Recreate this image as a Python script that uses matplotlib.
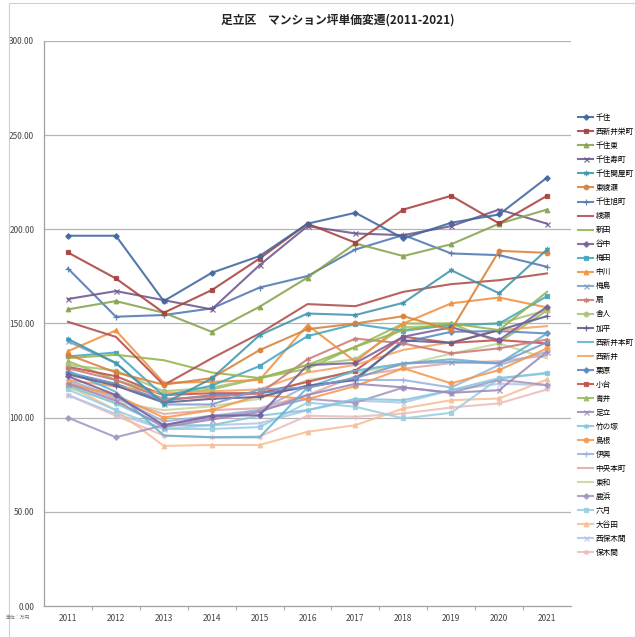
import matplotlib
matplotlib.use("Agg")
import matplotlib.pyplot as plt
from matplotlib.patches import Rectangle

plt.rcParams['font.family'] = ['Noto Sans CJK JP', 'DejaVu Sans']

years = [2011, 2012, 2013, 2014, 2015, 2016, 2017, 2018, 2019, 2020, 2021]
year_labels = [str(y) for y in years]
yticks = [0, 50, 100, 150, 200, 250, 300]
ytick_labels = ["%.2f" % v for v in yticks]

names = ["千住", "西新井栄町", "千住東", "千住寿町", "千住関屋町", "東綾瀬", "千住旭町", "綾瀬",
         "新田", "谷中", "梅田", "中川", "梅島", "扇", "舎人", "加平", "西新井本町", "西新井",
         "栗原", "小台", "青井", "足立", "竹の塚", "島根", "伊興", "中央本町", "東和", "鹿浜",
         "六月", "大谷田", "西保木間", "保木間"]

senju = [196.6, 196.6, 161.9, 176.9, 185.8, 203.0, 208.8, 195.2, 203.5, 207.9, 227.5]
nishiarai_sakae = [187.7, 173.9, 155.7, 167.7, 184.5, 203.0, 192.9, 210.5, 217.8, 203.1, 217.8]
senju_higashi = [157.5, 161.9, 155.7, 145.6, 158.9, 174.4, 192.5, 185.8, 192.1, 203.0, 210.5]
senju_kotobuki = [163.0, 167.2, 162.4, 157.5, 181.0, 201.7, 197.8, 196.9, 201.7, 210.5, 203.0]
senju_sekiya = [141.8, 129.0, 107.5, 120.8, 143.8, 155.3, 154.5, 161.0, 178.3, 166.0, 189.3]
higashi_ayase = [133.5, 124.0, 117.5, 121.0, 135.9, 147.0, 150.0, 153.9, 146.5, 188.6, 187.5]
senju_asahi = [179.2, 153.6, 154.5, 158.0, 169.1, 175.2, 189.3, 197.0, 187.2, 186.3, 180.1]
ayase = [150.9, 142.9, 117.3, 131.5, 144.7, 160.3, 159.2, 166.8, 170.9, 173.0, 176.6]
shinden = [131.6, 133.4, 130.5, 124.0, 121.0, 128.0, 137.6, 146.5, 150.0, 146.5, 166.8]
yanaka = [122.0, 112.0, 96.0, 101.0, 101.3, 127.9, 129.0, 143.0, 148.0, 141.2, 158.9]
umeda = [132.5, 134.6, 111.5, 117.0, 127.4, 143.3, 149.7, 146.1, 149.2, 150.0, 164.5]
nakagawa = [135.3, 146.3, 118.5, 119.0, 120.0, 149.2, 129.7, 150.0, 160.7, 163.8, 158.5]
umejima = [140.5, 129.0, 107.0, 107.0, 115.0, 116.0, 121.0, 128.8, 129.6, 128.8, 140.0]
ogi = [126.2, 120.0, 110.0, 111.0, 112.9, 131.0, 142.0, 139.4, 134.1, 136.8, 141.5]
toneri = [128.0, 125.0, 114.0, 116.0, 120.8, 128.0, 131.0, 148.0, 149.0, 150.0, 157.1]
kahei = [123.0, 117.0, 108.0, 110.0, 111.0, 117.0, 120.0, 141.0, 139.7, 146.5, 153.9]
nishiarai_hon = [125.0, 113.7, 90.5, 89.6, 89.6, 116.0, 125.0, 128.8, 131.0, 128.8, 144.7]
nishiarai = [120.0, 116.5, 113.0, 114.0, 115.0, 124.0, 128.0, 136.0, 140.0, 146.5, 148.6]
kurihara = [124.0, 118.0, 109.0, 112.0, 113.0, 116.0, 121.0, 140.0, 145.6, 146.0, 144.7]
odai = [127.0, 122.0, 112.0, 113.0, 113.0, 119.0, 125.0, 143.0, 139.7, 141.2, 139.4]
aoi = [130.0, 120.0, 112.0, 115.0, 121.0, 126.0, 137.6, 150.0, 150.0, 140.0, 157.0]
adachi = [118.0, 109.0, 95.0, 99.0, 103.0, 112.0, 118.0, 116.1, 113.2, 114.6, 135.0]
takenotsuka = [117.0, 107.5, 96.0, 96.0, 101.0, 104.0, 110.0, 109.3, 114.6, 121.0, 123.8]
shimane = [118.0, 112.0, 100.0, 104.0, 112.0, 109.9, 116.8, 126.2, 118.2, 125.3, 136.8]
iko = [120.0, 111.0, 98.0, 101.0, 104.0, 117.0, 120.0, 120.0, 116.0, 128.0, 135.0]
chuo_hon = [119.0, 110.0, 102.0, 104.0, 105.0, 112.0, 122.0, 126.0, 129.0, 130.0, 133.0]
towa = [116.0, 108.0, 104.0, 106.0, 110.0, 120.0, 124.0, 128.0, 134.0, 139.4, 131.5]
shikahama = [100.0, 89.6, 96.0, 100.0, 104.0, 110.0, 108.0, 116.0, 113.2, 120.2, 117.3]
rokugatsu = [115.0, 104.0, 94.0, 94.0, 95.0, 108.0, 105.8, 99.6, 102.6, 120.8, 123.5]
oyata = [117.0, 104.0, 85.0, 85.5, 85.5, 92.5, 96.0, 104.9, 109.3, 110.2, 120.3]
nishi_hokima = [112.0, 102.0, 94.0, 96.0, 97.0, 104.0, 109.0, 108.0, 114.6, 118.0, 117.3]
hokima = [112.0, 101.0, 90.5, 89.6, 90.0, 101.0, 100.5, 102.2, 105.4, 107.6, 115.0]

series = [senju, nishiarai_sakae, senju_higashi, senju_kotobuki, senju_sekiya, higashi_ayase,
          senju_asahi, ayase, shinden, yanaka, umeda, nakagawa, umejima, ogi, toneri, kahei,
          nishiarai_hon, nishiarai, kurihara, odai, aoi, adachi, takenotsuka, shimane, iko,
          chuo_hon, towa, shikahama, rokugatsu, oyata, nishi_hokima, hokima]

colors = ["#40679E", "#A8413E", "#86A34B", "#6E568C", "#3F95AD", "#D98139",
          "#5177B0", "#B04D4A", "#94B552", "#7A5E9E", "#44A6C0", "#F0913F",
          "#7D9CCB", "#CC7B79", "#A9C47A", "#5F5C8E", "#62B3CF", "#F5A460",
          "#5B88C4", "#C0504D", "#9BBB59", "#9C8AB8", "#86C6DB", "#F59A4E",
          "#9AB3DD", "#E3A6A4", "#C6D79B", "#A497C1", "#9ACFE2", "#F7BE95",
          "#B3C7E6", "#EBBDBB"]
marker_cycle = ['D', 's', '^', 'x', (6, 2, 0), 'o', '+', None, None]
marker_size = {'D': 2.8, 's': 3.3, '^': 3.3, 'x': 3.6, 'o': 3.3, '+': 3.8}

fig = plt.figure(figsize=(6.35, 6.37), dpi=100)
ax = fig.add_axes([44 / 635, 1 - 606 / 637, (571 - 44) / 635, (606 - 41) / 637])

xs = list(range(len(years)))
for i, (name, vals) in enumerate(zip(names, series)):
    m = marker_cycle[i % len(marker_cycle)]
    ms = marker_size.get(m, 3.8) if m is not None else 0
    ax.plot(xs, vals, color=colors[i], lw=1.5, marker=m, markersize=ms,
            markeredgewidth=0.9, alpha=0.88, label=name, zorder=3 + (32 - i) * 0.01)

ax.set_xlim(-0.5, len(years) - 0.5)
ax.set_ylim(0, 300)
ax.set_yticks(yticks)
ax.set_yticklabels(ytick_labels, fontsize=6, color="#444444")
ax.set_xticks(xs)
ax.set_xticklabels(year_labels, fontsize=6, color="#444444")
ax.set_xticks([x + 0.5 for x in xs[:-1]], minor=True)
ax.tick_params(axis='x', which='major', length=0, pad=6)
ax.tick_params(axis='x', which='minor', length=3, color="#999999")
ax.tick_params(axis='y', length=0, pad=7)
for v in yticks[1:]:
    ax.axhline(v, color="#B5B5B5", lw=0.9, zorder=1)
for s in ['top', 'right']:
    ax.spines[s].set_visible(False)
for s in ['left', 'bottom']:
    ax.spines[s].set_color("#A0A0A0")
    ax.spines[s].set_linewidth(0.9)

fig.text(338 / 635, 1 - 20 / 637, "足立区　マンション坪単価変遷(2011-2021)", ha='center', va='center',
         fontsize=8.5, fontweight='bold', color="#222222")
fig.text(6 / 635, 1 - 617 / 637, "単位：万円", fontsize=3.5, color="#777777", va='center')

leg = fig.legend(loc='upper left', bbox_to_anchor=(578 / 635, 1 - 114 / 637), fontsize=5.5,
                 frameon=False, handlelength=2.0, handletextpad=0.3, labelspacing=0.79,
                 borderaxespad=0, borderpad=0)

fig.patches.append(Rectangle((9 / 635, 0.0), 1 - 9 / 635, 1 - 3 / 637, transform=fig.transFigure,
                             fill=False, edgecolor="#D0D0D0", lw=0.8))

fig.savefig("out.png", dpi=100)
